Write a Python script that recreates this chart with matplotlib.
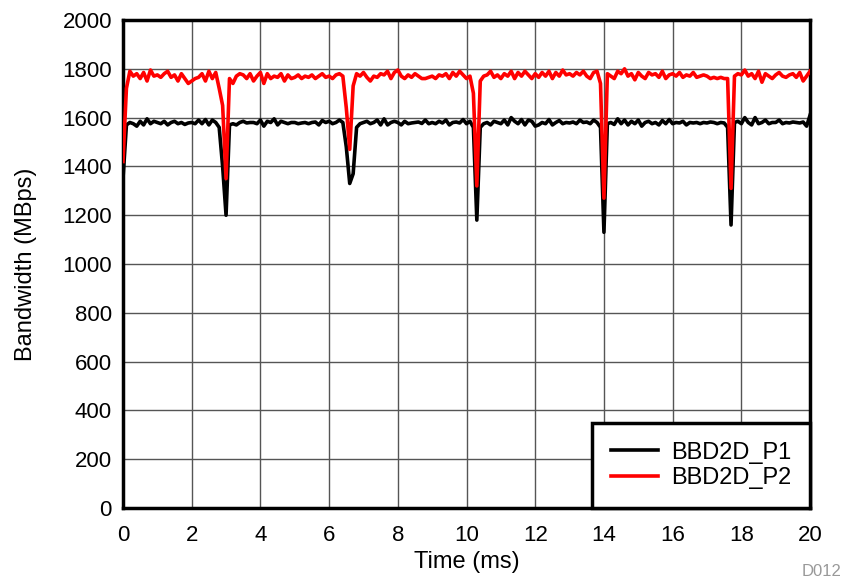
import matplotlib
matplotlib.use("Agg")
import matplotlib.pyplot as plt
import numpy as np

plt.rcParams['font.family'] = ['Liberation Sans', 'DejaVu Sans']

# time axis, 0.1 ms sampling
time_ms = np.round(np.arange(0, 20.05, 0.1), 1)

bw_p1 = [
    1350, 1570, 1580, 1575, 1565, 1585, 1570, 1595, 1575, 1585,
    1580, 1575, 1585, 1570, 1580, 1585, 1575, 1580, 1572, 1578,
    1580, 1575, 1590, 1575, 1592, 1570, 1590, 1580, 1560, 1400,
    1200, 1570, 1575, 1570, 1580, 1585, 1578, 1580, 1580, 1575,
    1590, 1565, 1585, 1580, 1595, 1570, 1585, 1580, 1575, 1580,
    1580, 1575, 1578, 1580, 1575, 1580, 1582, 1570, 1588, 1580,
    1585, 1575, 1580, 1590, 1580, 1480, 1330, 1370, 1560, 1575,
    1580, 1585, 1575, 1580, 1590, 1570, 1595, 1570, 1580, 1585,
    1580, 1570, 1585, 1575, 1578, 1580, 1582, 1576, 1590, 1575,
    1580, 1575, 1585, 1578, 1590, 1570, 1580, 1582, 1578, 1592,
    1575, 1585, 1560, 1180, 1560, 1575, 1580, 1570, 1585, 1580,
    1575, 1590, 1570, 1600, 1585, 1575, 1592, 1570, 1590, 1585,
    1565, 1570, 1580, 1575, 1592, 1570, 1580, 1588, 1575, 1580,
    1578, 1582, 1575, 1590, 1580, 1582, 1575, 1590, 1580, 1560,
    1130, 1575, 1580, 1572, 1595, 1575, 1590, 1570, 1585, 1575,
    1590, 1565, 1580, 1585, 1575, 1580, 1570, 1588, 1575, 1592,
    1575, 1580, 1578, 1585, 1570, 1580, 1578, 1580, 1575, 1580,
    1578, 1582, 1580, 1575, 1580, 1578, 1560, 1160, 1580, 1585,
    1575, 1600, 1580, 1570, 1600, 1575, 1580, 1590, 1575, 1580,
    1580, 1590, 1575, 1580, 1578, 1582, 1580, 1578, 1582, 1565,
    1610,
]

bw_p2 = [
    1420, 1720, 1790, 1770, 1780, 1760, 1785, 1750, 1795, 1770,
    1775, 1765, 1780, 1790, 1765, 1775, 1750, 1780, 1760, 1740,
    1750, 1760, 1765, 1780, 1750, 1790, 1760, 1785, 1720, 1650,
    1350, 1760, 1740, 1770, 1780, 1775, 1760, 1780, 1750, 1770,
    1785, 1740, 1780, 1760, 1770, 1765, 1780, 1750, 1775, 1760,
    1765, 1775, 1760, 1770, 1765, 1775, 1760, 1770, 1780, 1765,
    1770, 1760, 1775, 1780, 1770, 1640, 1470, 1730, 1780, 1770,
    1785, 1765, 1750, 1770, 1765, 1780, 1775, 1790, 1760, 1785,
    1795, 1770, 1760, 1775, 1765, 1780, 1770, 1760, 1760, 1765,
    1770, 1760, 1775, 1770, 1780, 1760, 1785, 1770, 1790, 1775,
    1760, 1770, 1700, 1320, 1750, 1770, 1775, 1790, 1765, 1775,
    1760, 1780, 1770, 1790, 1760, 1785, 1770, 1790, 1775, 1760,
    1780, 1765, 1785, 1770, 1790, 1760, 1785, 1770, 1795, 1775,
    1780, 1770, 1785, 1775, 1790, 1770, 1760, 1785, 1790, 1740,
    1270, 1780, 1770, 1760, 1790, 1780, 1800, 1770, 1780, 1755,
    1785, 1770, 1760, 1785, 1775, 1780, 1765, 1790, 1760, 1775,
    1780, 1770, 1785, 1765, 1775, 1770, 1785, 1765, 1770, 1775,
    1770, 1760, 1765, 1760, 1765, 1760, 1760, 1310, 1770, 1780,
    1775, 1795, 1770, 1780, 1760, 1790, 1745, 1780, 1770, 1760,
    1775, 1785, 1770, 1765, 1775, 1780, 1765, 1785, 1750, 1770,
    1790,
]

x_ticks = list(range(0, 21, 2))
y_ticks = list(range(0, 2001, 200))

fig = plt.figure(figsize=(8.5, 5.85), dpi=100)
ax = fig.add_axes([0.1447, 0.1316, 0.8083, 0.8342])

ax.plot(time_ms, bw_p1, color='black', linewidth=2.6, label='BBD2D_P1', zorder=3)
ax.plot(time_ms, bw_p2, color='#ff0000', linewidth=2.6, label='BBD2D_P2', zorder=4)

ax.set_xlim(0, 20)
ax.set_ylim(0, 2000)
ax.set_xticks(x_ticks)
ax.set_yticks(y_ticks)
ax.tick_params(length=0, labelsize=16)
ax.tick_params(axis='y', pad=8)
ax.tick_params(axis='x', pad=12)
ax.grid(True, color='#555555', linewidth=1.0)
ax.set_axisbelow(True)
for sp in ax.spines.values():
    sp.set_linewidth(2.5)
    sp.set_color('black')

ax.set_xlabel('Time (ms)', fontsize=17, labelpad=4)
ax.set_ylabel('Bandwidth (MBps)', fontsize=17, labelpad=18)

leg = ax.legend(loc='lower right', bbox_to_anchor=(1.0, 0.0), borderaxespad=0,
                fancybox=False, framealpha=1, edgecolor='black', fontsize=17,
                handlelength=2.0, handletextpad=0.55, borderpad=0.8,
                labelspacing=0.15)
leg.get_frame().set_linewidth(2.5)

fig.text(0.99, 0.01, 'D012', color='#999999', fontsize=12, ha='right', va='bottom')

fig.savefig('out.png', dpi=100)
